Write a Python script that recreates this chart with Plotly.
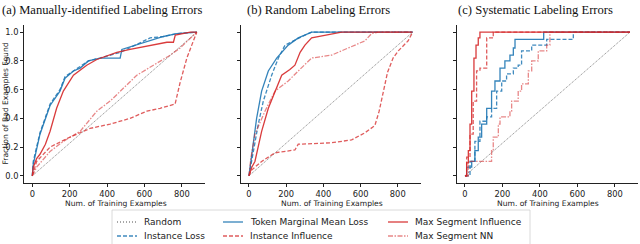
import plotly.graph_objects as go

# ---------------- data ----------------
x_ticks = [0, 200, 400, 600, 800]
y_ticks = [0.0, 0.2, 0.4, 0.6, 0.8, 1.0]
titles = ["(a) Manually-identified Labeling Errors", "(b) Random Labeling Errors", "(c) Systematic Labeling Errors"]
series_names = ["Random", "Instance Loss", "Token Marginal Mean Loss", "Instance Influence", "Max Segment Influence", "Max Segment NN"]

random_x = [0, 880]
random_y = [0, 1]

# panel (a)
a_loss_x = [0, 5, 41, 95, 148, 175, 220, 256, 300, 363, 416, 470, 520, 578, 630, 702, 773, 880]
a_loss_y = [0, 0.10, 0.30, 0.50, 0.60, 0.69, 0.73, 0.76, 0.80, 0.82, 0.84, 0.86, 0.89, 0.93, 0.96, 0.97, 0.99, 1.0]
a_token_x = [0, 5, 41, 95, 148, 175, 220, 256, 300, 363, 416, 470, 479, 578, 630, 702, 773, 880]
a_token_y = [0, 0.08, 0.29, 0.49, 0.59, 0.68, 0.73, 0.75, 0.80, 0.82, 0.82, 0.82, 0.88, 0.92, 0.94, 0.97, 0.99, 1.0]
a_infl_x = [0, 23, 95, 202, 309, 416, 523, 613, 684, 764, 791, 827, 862, 880]
a_infl_y = [0, 0.10, 0.20, 0.27, 0.33, 0.36, 0.40, 0.45, 0.47, 0.50, 0.65, 0.82, 0.94, 1.0]
a_seg_x = [0, 5, 23, 41, 70, 95, 130, 166, 220, 291, 345, 416, 452, 523, 648, 720, 755, 765, 845, 880]
a_seg_y = [0, 0.06, 0.12, 0.15, 0.22, 0.31, 0.47, 0.59, 0.70, 0.77, 0.81, 0.84, 0.86, 0.88, 0.91, 0.93, 0.93, 0.98, 1.0, 1.0]
a_nn_x = [0, 23, 95, 166, 256, 345, 416, 505, 559, 648, 738, 791, 845, 880]
a_nn_y = [0, 0.06, 0.17, 0.24, 0.31, 0.45, 0.52, 0.63, 0.70, 0.77, 0.84, 0.89, 0.96, 1.0]

# panel (b)
b_loss_x = [0, 14, 50, 77, 122, 158, 194, 301, 337, 880]
b_loss_y = [0, 0.10, 0.36, 0.52, 0.70, 0.82, 0.91, 0.98, 1.0, 1.0]
b_token_x = [0, 14, 41, 68, 104, 149, 211, 265, 337, 880]
b_token_y = [0, 0.13, 0.40, 0.59, 0.73, 0.82, 0.91, 0.96, 1.0, 1.0]
b_infl_x = [0, 14, 68, 140, 247, 265, 444, 552, 624, 677, 700, 720, 745, 775, 803, 856, 880]
b_infl_y = [0, 0.04, 0.10, 0.16, 0.18, 0.22, 0.23, 0.25, 0.30, 0.35, 0.45, 0.58, 0.72, 0.82, 0.87, 0.94, 1.0]
b_seg_x = [0, 15, 32, 68, 104, 140, 176, 220, 247, 275, 301, 337, 409, 498, 880]
b_seg_y = [0, 0.06, 0.10, 0.31, 0.47, 0.59, 0.70, 0.74, 0.77, 0.86, 0.91, 0.96, 0.98, 1.0, 1.0]
b_nn_x = [0, 10, 32, 86, 140, 211, 265, 337, 444, 516, 624, 659, 695, 880]
b_nn_y = [0, 0.12, 0.29, 0.45, 0.59, 0.66, 0.73, 0.82, 0.84, 0.88, 0.94, 0.99, 1.0, 1.0]

# panel (c)
c_loss_x = [0, 27, 53, 80, 116, 142, 169, 196, 222, 258, 284, 302, 356, 436, 578, 880]
c_loss_y = [0, 0.10, 0.24, 0.38, 0.41, 0.47, 0.59, 0.66, 0.71, 0.75, 0.77, 0.87, 0.91, 0.95, 1.0, 1.0]
c_token_x = [0, 9, 36, 53, 71, 89, 116, 142, 160, 187, 213, 240, 258, 267, 420, 880]
c_token_y = [0, 0.06, 0.10, 0.175, 0.27, 0.36, 0.47, 0.59, 0.66, 0.75, 0.80, 0.84, 0.89, 0.95, 1.0, 1.0]
c_infl_x = [0, 9, 27, 44, 62, 80, 116, 151, 880]
c_infl_y = [0, 0.13, 0.29, 0.52, 0.73, 0.75, 0.96, 1.0, 1.0]
c_seg_x = [0, 9, 18, 27, 36, 48, 59, 71, 80, 880]
c_seg_y = [0, 0.09, 0.175, 0.36, 0.59, 0.82, 0.91, 0.96, 1.0, 1.0]
c_nn_x = [0, 18, 116, 142, 151, 178, 187, 240, 249, 284, 302, 338, 356, 391, 436, 453, 880]
c_nn_y = [0, 0.10, 0.10, 0.175, 0.27, 0.36, 0.41, 0.45, 0.52, 0.59, 0.64, 0.73, 0.80, 0.87, 0.91, 1.0, 1.0]

panels = [
    [(a_loss_x, a_loss_y), (a_token_x, a_token_y), (a_infl_x, a_infl_y), (a_seg_x, a_seg_y), (a_nn_x, a_nn_y)],
    [(b_loss_x, b_loss_y), (b_token_x, b_token_y), (b_infl_x, b_infl_y), (b_seg_x, b_seg_y), (b_nn_x, b_nn_y)],
    [(c_loss_x, c_loss_y), (c_token_x, c_token_y), (c_infl_x, c_infl_y), (c_seg_x, c_seg_y), (c_nn_x, c_nn_y)],
]

# ---------------- styles ----------------
W, H = 640, 244
BLUE = "#1f77b4"
RED = "#d62728"
styles = {
    "Random": dict(color="#666666", width=0.8, dash="1px,1px"),
    "Instance Loss": dict(color=BLUE, width=1.3, dash="4px,2px"),
    "Token Marginal Mean Loss": dict(color=BLUE, width=1.3, dash="solid"),
    "Instance Influence": dict(color=RED, width=1.3, dash="4px,2px"),
    "Max Segment Influence": dict(color=RED, width=1.3, dash="solid"),
    "Max Segment NN": dict(color=RED, width=1.3, dash="5px,1.5px,1.5px,1.5px"),
}
opac = {"Random": 1.0, "Instance Loss": 0.85, "Token Marginal Mean Loss": 0.9,
        "Instance Influence": 0.75, "Max Segment Influence": 0.9, "Max Segment NN": 0.55}

x_dom = [(24.1, 205.0), (240.8, 420.8), (456.7, 638.2)]
y_dom = (25.0, 183.0)

def px2x(p):
    return p / W

def px2y(p):
    return 1 - p / H

fig = go.Figure()
for i, pdata in enumerate(panels):
    xa = "x" if i == 0 else f"x{i+1}"
    ya = "y" if i == 0 else f"y{i+1}"
    shape = "hv" if i == 2 else "linear"
    fig.add_trace(go.Scatter(x=random_x, y=random_y, mode="lines", xaxis=xa, yaxis=ya,
                             line=styles["Random"], opacity=opac["Random"], showlegend=False,
                             name="Random"))
    for name, (xs, ys) in zip(series_names[1:], pdata):
        fig.add_trace(go.Scatter(x=xs, y=ys, mode="lines", xaxis=xa, yaxis=ya,
                                 line=dict(**styles[name], shape=shape), opacity=opac[name],
                                 showlegend=False, name=name))

axis_common = dict(showgrid=False, zeroline=False, showline=True, linecolor="#222222", linewidth=0.8,
                   ticks="outside", ticklen=3, tickwidth=0.8, tickcolor="#222222",
                   tickfont=dict(family="DejaVu Sans", size=8.3, color="#222222"), mirror=False)

layout = dict(width=W, height=H, margin=dict(l=0, r=0, t=0, b=0), paper_bgcolor="white",
              plot_bgcolor="white", showlegend=False)
for i in range(3):
    xk = "xaxis" if i == 0 else f"xaxis{i+1}"
    yk = "yaxis" if i == 0 else f"yaxis{i+1}"
    ya = "y" if i == 0 else f"y{i+1}"
    xa = "x" if i == 0 else f"x{i+1}"
    layout[xk] = dict(axis_common, domain=[px2x(x_dom[i][0]), px2x(x_dom[i][1])], range=[-44, 924],
                      tickvals=x_ticks, anchor=ya)
    layout[yk] = dict(axis_common, domain=[px2y(y_dom[1]), px2y(y_dom[0])], range=[-0.05, 1.05],
                      tickvals=y_ticks, tickformat=".1f", showticklabels=(i == 0), anchor=xa)
fig.update_layout(**layout)

annotations = []
title_centers = [102, 318.5, 535]
for t, cx in zip(titles, title_centers):
    annotations.append(dict(text=t, x=px2x(cx), y=px2y(10), xref="paper", yref="paper",
                            showarrow=False, xanchor="center", yanchor="middle",
                            font=dict(family="Liberation Serif", size=12.6, color="#111111")))
for (l, r) in x_dom:
    annotations.append(dict(text="Num. of Training Examples", x=px2x((l + r) / 2 + 1), y=px2y(203),
                            xref="paper", yref="paper", showarrow=False, xanchor="center",
                            yanchor="middle", borderpad=0,
                            font=dict(family="DejaVu Sans", size=7.6, color="#222222")))
annotations.append(dict(text="Fraction of Bad Examples Found", x=px2x(4.5), y=px2y(104), xref="paper",
                        yref="paper", showarrow=False, textangle=-90, xanchor="center", yanchor="middle",
                        borderpad=0, font=dict(family="DejaVu Sans", size=7.6, color="#222222")))

# legend (column-major like matplotlib)
shapes = [dict(type="rect", xref="paper", yref="paper", x0=px2x(112), x1=px2x(530), y0=px2y(252),
               y1=px2y(210), line=dict(color="#d0d0d0", width=0.8), fillcolor="white", layer="above")]
col_x = [117, 223, 388]
row_y = [222, 236]
for k, name in enumerate(series_names):
    cx = col_x[k // 2]
    ry = row_y[k % 2]
    st = styles[name]
    shapes.append(dict(type="line", xref="paper", yref="paper", x0=px2x(cx), x1=px2x(cx + 20),
                       y0=px2y(ry), y1=px2y(ry), layer="above", opacity=opac[name],
                       line=dict(color=st["color"] if name != "Random" else "#222222",
                                 width=st["width"], dash=st["dash"] if name != "Random" else "1px,2px")))
    annotations.append(dict(text=name, x=px2x(cx + 25), y=px2y(ry), xref="paper", yref="paper",
                            showarrow=False, xanchor="left", yanchor="middle",
                            font=dict(family="DejaVu Sans", size=9, color="#222222")))

fig.update_layout(annotations=annotations, shapes=shapes)
fig.write_html("out.html", config={"displayModeBar": False},
               post_script="document.body.style.margin='0';document.body.style.overflow='hidden';")
